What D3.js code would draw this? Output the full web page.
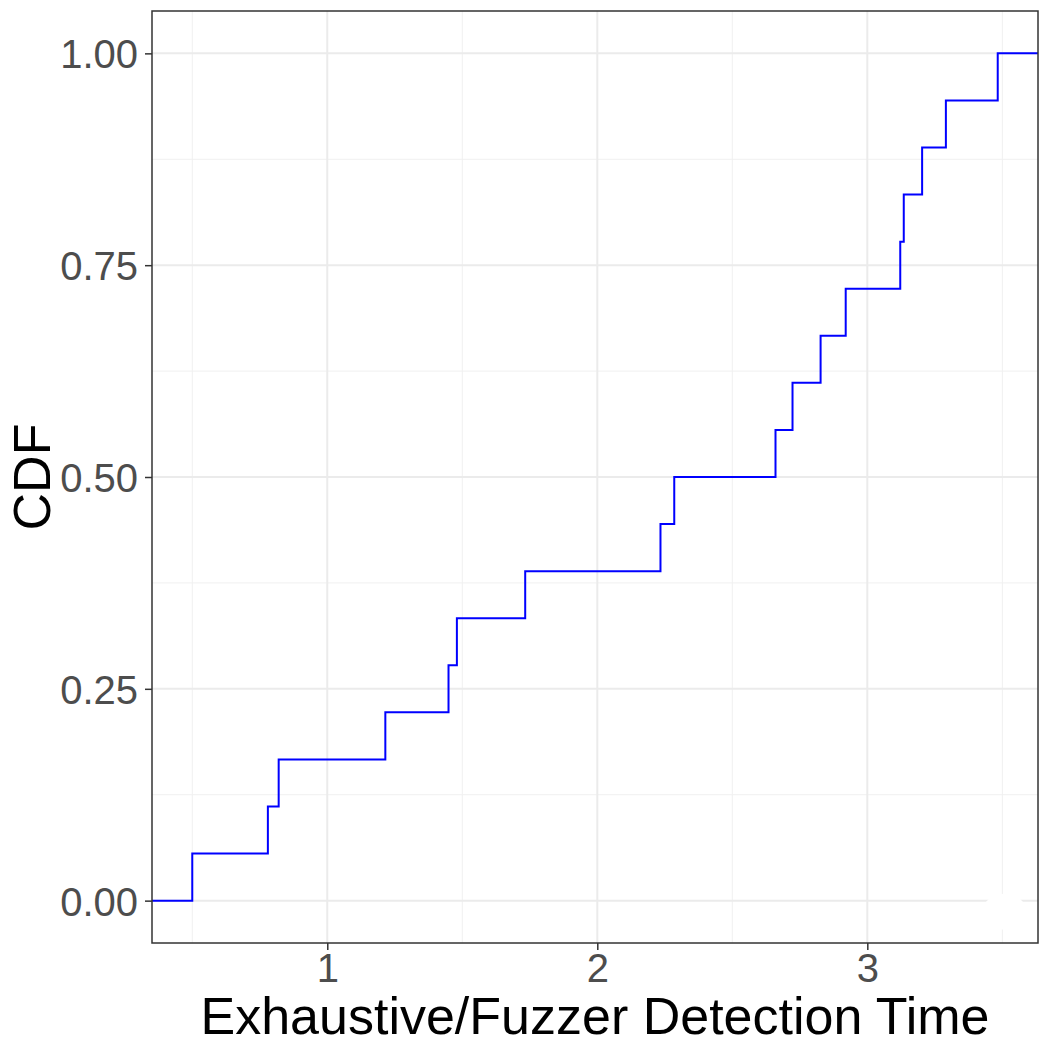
<!DOCTYPE html>
<html>
<head>
<meta charset="utf-8">
<script src="https://cdn.jsdelivr.net/npm/d3@7"></script>
<style>
  body { margin: 0; background: #fff; }
  svg text { font-family: "Liberation Sans", Arial, Helvetica, sans-serif; }
</style>
</head>
<body>
<div id="chart"></div>
<script>
// detection time ratios (sorted), one step per observation
const times = [0.500, 0.780, 0.820, 1.215, 1.449, 1.480, 1.733, 2.234, 2.285,
               2.660, 2.723, 2.827, 2.920, 3.122, 3.135, 3.203, 3.291, 3.483];
const xTicks = [1, 2, 3];
const xMinor = [0.5, 1.5, 2.5, 3.5];
const yTicks = [0, 0.25, 0.5, 0.75, 1];
const yMinor = [0.125, 0.375, 0.625, 0.875];
// white speck near the lower right corner of the panel
const specks = [{ x: 3.508, y: -0.013 }];

const width = 1050, height = 1050,
      margin = ({ top: 11, right: 12, bottom: 107, left: 152 });

const svg = d3.select("#chart")
    .append("svg")
    .attr("width", width)
    .attr("height", height);

// ggplot-style 5% expansion around the data
const span = d3.max(times) - d3.min(times);
const x = d3.scaleLinear()
    .domain([d3.min(times) - 0.05 * span, d3.max(times) + 0.05 * span])
    .range([margin.left, width - margin.right]);

const y = d3.scaleLinear()
    .domain([-0.05, 1.05])
    .range([height - margin.bottom, margin.top]);

// grid
const grid = svg.append("g");
grid.selectAll(".xminor").data(xMinor).join("line")
    .attr("x1", d => x(d)).attr("x2", d => x(d))
    .attr("y1", y.range()[0]).attr("y2", y.range()[1])
    .attr("stroke", "#f0f0f0").attr("stroke-width", 1);
grid.selectAll(".yminor").data(yMinor).join("line")
    .attr("x1", x.range()[0]).attr("x2", x.range()[1])
    .attr("y1", d => y(d)).attr("y2", d => y(d))
    .attr("stroke", "#f0f0f0").attr("stroke-width", 1);
grid.selectAll(".xmajor").data(xTicks).join("line")
    .attr("x1", d => x(d)).attr("x2", d => x(d))
    .attr("y1", y.range()[0]).attr("y2", y.range()[1])
    .attr("stroke", "#ebebeb").attr("stroke-width", 2);
grid.selectAll(".ymajor").data(yTicks).join("line")
    .attr("x1", x.range()[0]).attr("x2", x.range()[1])
    .attr("y1", d => y(d)).attr("y2", d => y(d))
    .attr("stroke", "#ebebeb").attr("stroke-width", 2);

svg.selectAll(".speck").data(specks).join("ellipse")
    .attr("cx", d => x(d.x)).attr("cy", d => y(d.y))
    .attr("rx", 22).attr("ry", 18)
    .attr("fill", "#fff");

// ecdf step line, running from panel edge to panel edge
const n = times.length;
const steps = [{ x: x.domain()[0], y: 0 }]
    .concat(times.map((t, i) => ({ x: t, y: (i + 1) / n })))
    .concat([{ x: x.domain()[1], y: 1 }]);

svg.append("path")
    .datum(steps)
    .attr("fill", "none")
    .attr("stroke", "#0000ff")
    .attr("stroke-width", 2)
    .attr("d", d3.line().x(d => x(d.x)).y(d => y(d.y)).curve(d3.curveStepAfter));

// panel border
svg.append("rect")
    .attr("x", margin.left).attr("y", margin.top)
    .attr("width", width - margin.left - margin.right)
    .attr("height", height - margin.top - margin.bottom)
    .attr("fill", "none")
    .attr("stroke", "#333333")
    .attr("stroke-width", 1.5);

// axes
const xAxis = svg.append("g")
    .attr("transform", `translate(0,${height - margin.bottom})`)
    .call(d3.axisBottom(x).tickValues(xTicks).tickFormat(d3.format("d")).tickSize(7).tickPadding(5));
const yAxis = svg.append("g")
    .attr("transform", `translate(${margin.left},0)`)
    .call(d3.axisLeft(y).tickValues(yTicks).tickFormat(d3.format(".2f")).tickSize(7).tickPadding(7));

for (const ax of [xAxis, yAxis]) {
    ax.select(".domain").remove();
    ax.selectAll("line").attr("stroke", "#333333").attr("stroke-width", 1.5);
    ax.selectAll("text").attr("fill", "#4d4d4d").style("font-size", "40px");
}
yAxis.selectAll("text").attr("dy", "0.36em");
xAxis.selectAll("text").attr("dy", "0.68em");

// titles
svg.append("text")
    .attr("x", (x.range()[0] + x.range()[1]) / 2)
    .attr("y", 1034)
    .attr("text-anchor", "middle")
    .style("font-size", "52px")
    .text("Exhaustive/Fuzzer Detection Time");

svg.append("text")
    .attr("transform", `translate(50,${(y.range()[0] + y.range()[1]) / 2}) rotate(-90)`)
    .attr("text-anchor", "middle")
    .style("font-size", "52px")
    .text("CDF");
</script>
</body>
</html>
